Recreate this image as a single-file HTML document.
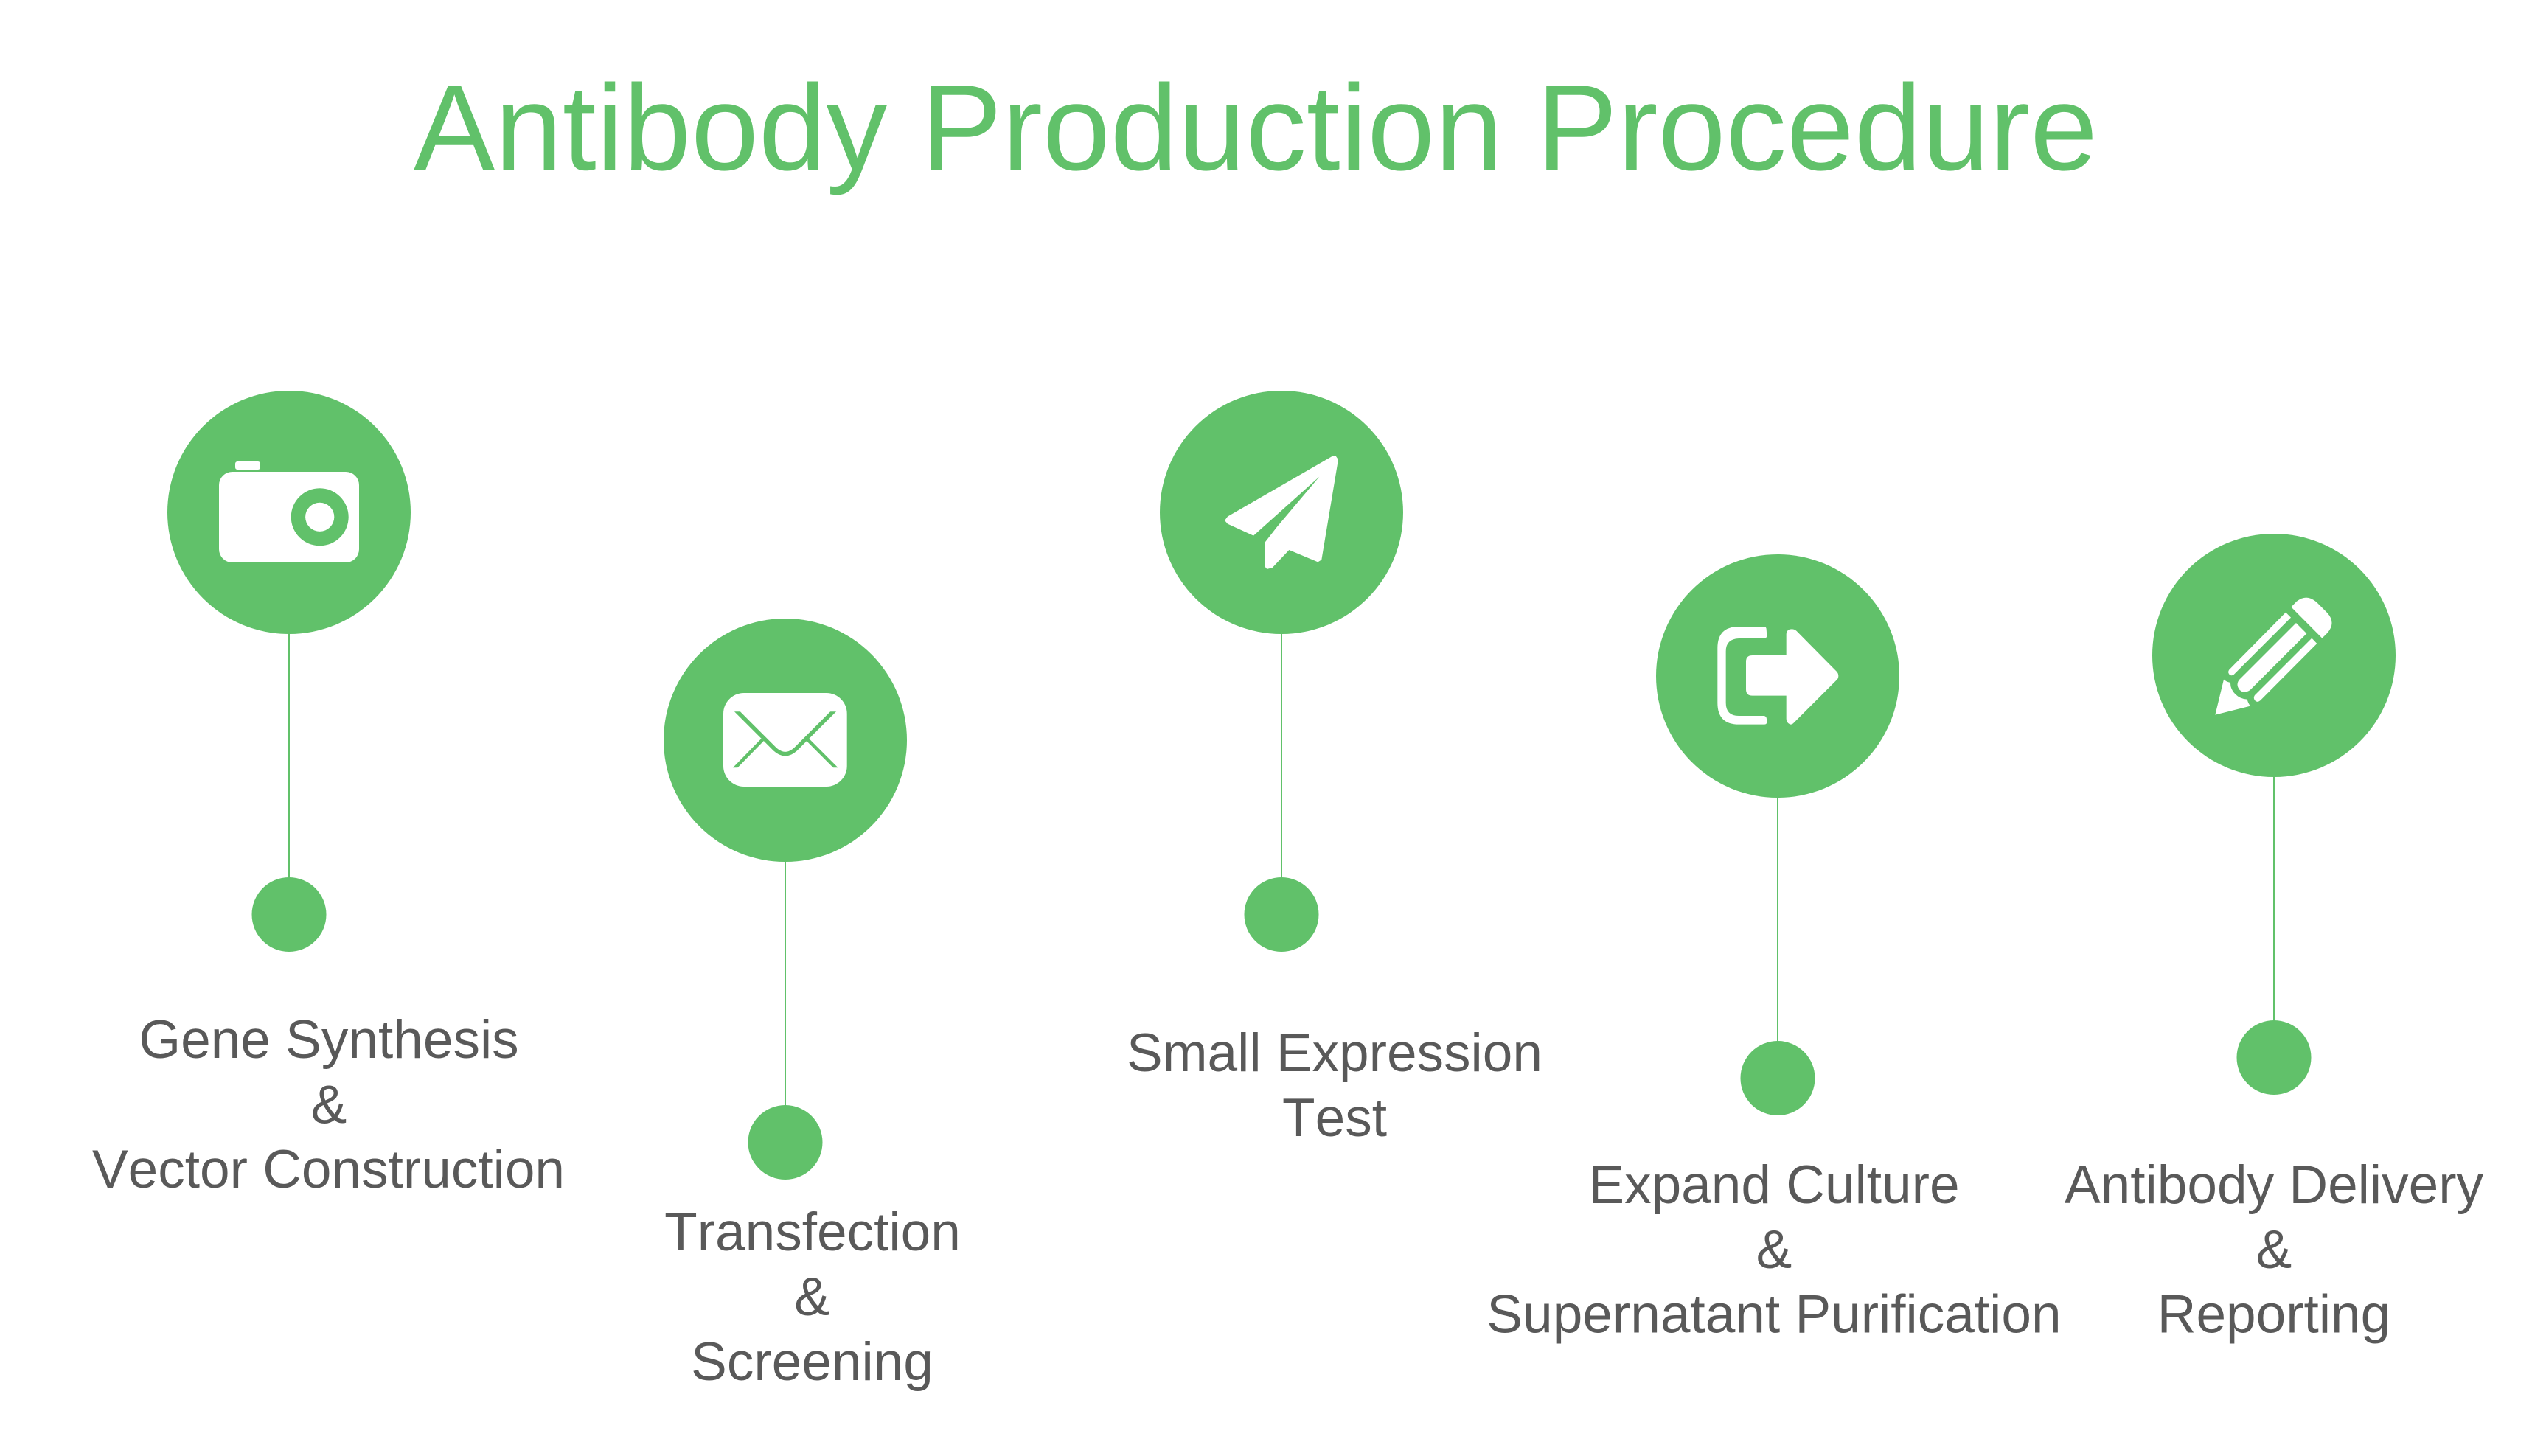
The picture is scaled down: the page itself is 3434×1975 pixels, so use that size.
<!DOCTYPE html>
<html lang="en">
<head>
<meta charset="utf-8">
<title>Antibody Production Procedure</title>
<style>
html,body{margin:0;padding:0;background:#fff;width:3434px;height:1975px;overflow:hidden}
svg{display:block}
.t{font-family:"Liberation Sans",Arial,sans-serif;text-anchor:middle;font-kerning:none}
.l{font-size:73px;fill:#595959}
</style>
</head>
<body>
<svg xmlns="http://www.w3.org/2000/svg" width="3434" height="1975" viewBox="0 0 3434 1975">
<rect width="3434" height="1975" fill="#fff"/>
<defs>
<clipPath id="c1"><rect x="960" y="965.3" width="210" height="80"/></clipPath>
<clipPath id="c2"><rect x="960" y="990" width="210" height="51.3"/></clipPath>
</defs>

<text class="t" font-size="165" fill="#61C16A" x="1703" y="230">Antibody Production Procedure</text>

<g fill="#61C16A">
<circle cx="392" cy="695" r="165"/>
<circle cx="1065" cy="1004" r="165"/>
<circle cx="1738" cy="695" r="165"/>
<circle cx="2411" cy="917" r="165"/>
<circle cx="3084" cy="889" r="165"/>
<circle cx="392" cy="1240.5" r="50.5"/>
<circle cx="1065" cy="1549.5" r="50.5"/>
<circle cx="1738" cy="1240.5" r="50.5"/>
<circle cx="2411" cy="1462.5" r="50.5"/>
<circle cx="3084" cy="1434.5" r="50.5"/>
<rect x="391" y="855" width="2" height="340"/>
<rect x="1064" y="1164" width="2" height="340"/>
<rect x="1737" y="855" width="2" height="340"/>
<rect x="2410" y="1077" width="2" height="340"/>
<rect x="3083" y="1049" width="2" height="340"/>
</g>

<!-- camera -->
<g>
<rect x="297" y="640" width="190" height="123" rx="18" fill="#fff"/>
<rect x="319" y="626" width="34" height="11" rx="3" fill="#fff"/>
<circle cx="433.7" cy="701.3" r="39" fill="#61C16A"/>
<circle cx="433.7" cy="701.3" r="19.6" fill="#fff"/>
</g>

<!-- envelope -->
<g>
<rect x="981" y="940" width="167.7" height="127" rx="28" fill="#fff"/>
<path clip-path="url(#c1)" d="M996 961.3 L1051 1016.3 Q1065 1029 1079 1016.3 L1134 961.3" fill="none" stroke="#61C16A" stroke-width="5.6"/>
<g clip-path="url(#c2)" fill="none" stroke="#61C16A" stroke-width="4.6">
<path d="M992.3 1046.3 L1034.3 1003.3"/>
<path d="M1138.3 1046.3 L1095.3 1003.3"/>
</g>
</g>

<!-- paper plane -->
<g transform="translate(1550,500) scale(.33333)" fill="#fff">
<path d="M345 602 L775 354 L785 356 L795 370 L727 778 L712 787 L595 738 L527 810 L505 816 L496 805 L496 708 L545 645 L718 440 L450 680 L345 632 L333 618 Z"/>
</g>

<!-- exit arrow -->
<g transform="translate(2230,740) scale(.33333)" fill="#fff">
<path d="M385 330 H488 Q496 330 497 340 L499 368 Q498 377 488 378 H385 Q332 380 332 430 V640 Q332 693 385 693 H488 Q497 695 498 705 L499 720 Q498 728 488 728 H385 Q298 728 298 640 V417 Q298 330 385 330 Z"/>
<path d="M578 447 V360 Q580 340 600 340 Q612 340 620 348 L785 515 Q790 522 790 530 Q790 540 785 545 L608 722 Q600 730 592 727 Q578 720 578 705 V611 H440 Q414 611 414 585 V472 Q414 447 440 447 Z"/>
</g>

<!-- pencil -->
<g transform="translate(2900,710) scale(.33333)" fill="#fff">
<path d="M622 340 L645 317 Q685 285 725 320 L770 365 Q805 405 770 445 L748 467 Z"/>
<path d="M600 362 L621 383 L390 614 Q380 622 372 616 Q362 606 370 595 Z"/>
<path d="M642 405 L685 448 L455 678 Q430 695 412 677 Q395 655 412 635 Z"/>
<path d="M706 467 L727 489 L497 720 Q485 730 476 722 Q466 710 474 699 Z"/>
<path d="M313 779 L348 635 Q358 645 375 648 Q374 675 395 695 Q415 715 443 716 Q447 732 456 743 Z"/>
</g>

<g>
<text class="t l" x="446" y="1435">Gene Synthesis</text>
<text class="t l" x="446" y="1523.5">&amp;</text>
<text class="t l" x="445.5" y="1611">Vector Construction</text>

<text class="t l" x="1102" y="1696">Transfection</text>
<text class="t l" x="1101.5" y="1784">&amp;</text>
<text class="t l" x="1101.5" y="1872">Screening</text>

<text class="t l" x="1810" y="1453">Small Expression</text>
<text class="t l" x="1810" y="1541">Test</text>

<text class="t l" x="2406" y="1632">Expand Culture</text>
<text class="t l" x="2406" y="1720">&amp;</text>
<text class="t l" x="2406" y="1807.5">Supernatant Purification</text>

<text class="t l" x="3084" y="1632">Antibody Delivery</text>
<text class="t l" x="3084" y="1720">&amp;</text>
<text class="t l" x="3084" y="1807.5">Reporting</text>
</g>
</svg>
</body>
</html>
